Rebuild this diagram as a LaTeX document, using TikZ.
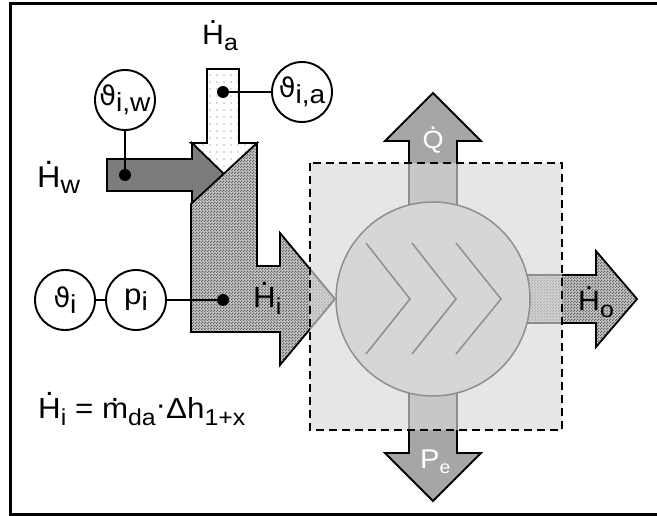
\documentclass[tikz,border=0pt]{standalone}
\usepackage{fontspec}
\setmainfont{Liberation Sans}[FakeStretch=1.08]
\newfontfamily\grk{DejaVu Sans}
\usetikzlibrary{patterns.meta}
\definecolor{boxgray}{HTML}{D9D9D9}
\definecolor{circgray}{HTML}{D6D6D6}
\definecolor{edgegray}{HTML}{8F8F8F}
\definecolor{flowgray}{HTML}{A6A6A6}
\definecolor{darkflow}{HTML}{7C7C7C}
\newcommand{\dotover}[2][0.77em]{\ooalign{#2\cr\hidewidth\raisebox{#1}{.}\hidewidth\cr}}
\newcommand{\fs}[1]{\fontsize{#1}{#1}\selectfont}
\tikzdeclarepattern{
  name=checker,
  type=uncolored,
  bounding box={(0pt,0pt) and (3pt,3pt)},
  tile size={(3pt,3pt)},
  code={\pgfpathrectangle{\pgfpoint{0pt}{0pt}}{\pgfpoint{1.5pt}{1.5pt}}
        \pgfpathrectangle{\pgfpoint{1.5pt}{1.5pt}}{\pgfpoint{1.5pt}{1.5pt}}
        \pgfusepath{fill}}
}
\begin{document}
\begin{tikzpicture}[x=1pt,y=-1pt,
  meas/.style={circle, draw, line width=1.9, minimum size=60, inner sep=0, fill=white},
  blackdot/.style={circle, fill=black, minimum size=12, inner sep=0},
  conn/.style={line width=2},
  flow/.style={draw, line width=1.8, line join=miter},
  hatchflow/.style={flow, preaction={fill=black!22}, pattern=checker, pattern color=black!62},
  dotflow/.style={flow, preaction={fill=white}, pattern={Dots[distance=7pt, radius=0.55pt]}, pattern color=black!60},
  lbl/.style={inner sep=0, anchor=base west},
]
\useasboundingbox (0,0) rectangle (657,516);
% frame
\draw[line width=3] (657,4) -- (10,4) -- (10,514) -- (657,514);

% inlet flows
\path[dotflow] (207,69) -- (239,69) -- (239,143) -- (257,143) -- (224,176) -- (191,143) -- (207,143) -- cycle;
\path[flow, fill=darkflow] (107,159) -- (192,159) -- (192,143) -- (224,174) -- (192,204) -- (192,191) -- (107,191) -- cycle;
\path[hatchflow] (191,204) -- (257,143) -- (257,266) -- (280,266) -- (280,233) -- (335,299) -- (280,365) -- (280,332) -- (191,332) -- cycle;

% outlet flows
\path[flow, fill=flowgray] (409,230) -- (409,141) -- (385,141) -- (433,93) -- (481,141) -- (457,141) -- (457,230) -- cycle;
\path[flow, fill=flowgray] (409,370) -- (409,453) -- (385,453) -- (433,501) -- (481,453) -- (457,453) -- (457,370) -- cycle;
\path[hatchflow] (500,275) -- (596,275) -- (596,251) -- (637,299) -- (596,347) -- (596,323) -- (500,323) -- cycle;

% system boundary
\fill[boxgray, fill opacity=0.65] (310,163) rectangle (562,430);
\draw[line width=2, dash pattern=on 8pt off 5pt] (310,163) rectangle (562,430);

% machine
\node[circle, fill=circgray, draw=edgegray, line width=1.5, minimum size=194, inner sep=0] (mach) at (433,299) {};
\draw[edgegray, line width=1.5] (366,243) -- (410,299) -- (366,354);
\draw[edgegray, line width=1.5] (412,243) -- (456,299) -- (412,354);
\draw[edgegray, line width=1.5] (456,243) -- (501,299) -- (456,354);

% measurement points
\node[meas] (tiw) at (125,100) {{\grk\fs{27}ϑ}\raisebox{-6pt}{\fs{26}i,w}};
\node[blackdot] (dw) at (125,175) {};
\draw[conn] (tiw) -- (dw);
\node[meas] (tia) at (302,92) {{\grk\fs{27}ϑ}\raisebox{-6pt}{\fs{26}i,a}};
\node[blackdot] (da) at (223,92) {};
\draw[conn] (da) -- (tia);
\node[meas] (ti) at (65,300) {{\grk\fs{27}ϑ}\raisebox{-6pt}{\fs{26}i}};
\node[meas] (pi) at (136,300) {\fs{29}p\raisebox{-6pt}{\fs{26}i}};
\node[blackdot] (di) at (223,300) {};
\draw[conn] (ti) -- (pi);
\draw[conn] (pi) -- (di);

% labels
\node[lbl] (lha) at (202,45) {\fs{28}\dotover{H}\raisebox{-6pt}{\fs{23}a}};
\node[lbl] (lhw) at (37,188) {\fs{30}\dotover{H}\raisebox{-6pt}{\fs{25}w}};
\node[lbl] (lhi) at (253,308) {\fs{29}\dotover{H}\raisebox{-7pt}{\fs{23}i}};
\node[lbl] (lho) at (578,311) {\fs{28}\dotover{H}\raisebox{-6pt}{\fs{23}o}};
\node[inner sep=0, anchor=base, text=white] (lq) at (433,149) {\fs{25}\dotover{Q}};
\node[lbl, text=white] (lpe) at (420,468) {\fs{27}P\raisebox{-5pt}{\fs{18}e}};
\node[lbl] (eq) at (38,418) {\fs{29}\dotover{H}\raisebox{-7pt}{\fs{23}i} = \dotover[0.58em]{m}\raisebox{-7pt}{\fs{23}da}\raisebox{0.12em}{·}Δh\raisebox{-7pt}{\fs{23}1+x}};
\end{tikzpicture}
\end{document}
